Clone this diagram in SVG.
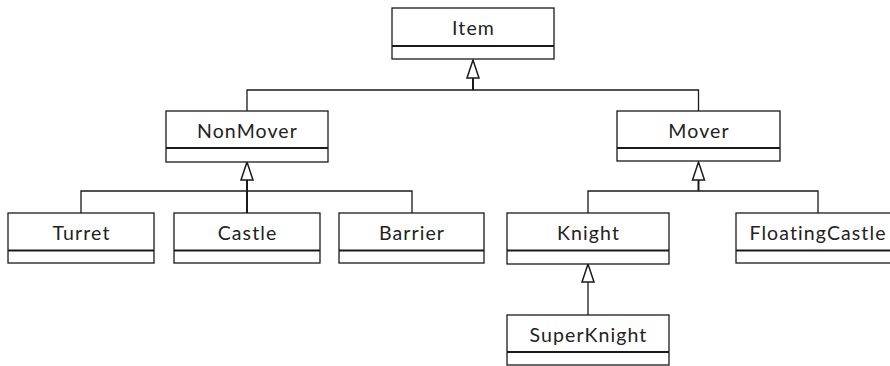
<svg xmlns="http://www.w3.org/2000/svg" width="890" height="366" viewBox="0 0 890 366">
<style>
.box{fill:#fff;stroke:#1a1a1a;stroke-width:1.3}
.div{stroke:#1a1a1a;stroke-width:1.8}
.t{font-family:Lato,"Open Sans",sans-serif;font-size:19.5px;letter-spacing:1.1px;fill:#222;text-anchor:middle}
.c{fill:none;stroke:#1a1a1a;stroke-width:1.3}
.a{fill:#fff;stroke:#1a1a1a;stroke-width:1.5}
</style>
<g id="connectors">
<polyline class="c" points="247,111 247,90 698.5,90 698.5,111"/>
<line class="c" x1="473" y1="78" x2="473" y2="90" style="stroke-width:2"/>
<polygon class="a" points="473,60 467,78 479,78"/>
<polyline class="c" points="81,213 81,191 412,191 412,213"/>
<line class="c" x1="247" y1="180" x2="247" y2="213" style="stroke-width:2"/>
<polygon class="a" points="247,162 241,180 253,180"/>
<polyline class="c" points="588,213 588,191 818,191 818,213"/>
<line class="c" x1="698.5" y1="180" x2="698.5" y2="191" style="stroke-width:2"/>
<polygon class="a" points="698.5,162 692.5,180 704.5,180"/>
<line class="c" x1="588" y1="282" x2="588" y2="315"/>
<polygon class="a" points="588,264 582,282 594,282"/>
</g>
<g id="Item"><rect class="box" x="392" y="8" width="162" height="51"/><line class="div" x1="392" y1="46" x2="554" y2="46"/><text class="t" x="473.5" y="35">Item</text></g>
<g id="NonMover"><rect class="box" x="166" y="111" width="162" height="51"/><line class="div" x1="166" y1="148" x2="328" y2="148"/><text class="t" x="247.5" y="138">NonMover</text></g>
<g id="Mover"><rect class="box" x="617" y="111" width="163" height="50"/><line class="div" x1="617" y1="148" x2="780" y2="148"/><text class="t" x="699" y="138">Mover</text></g>
<g id="Turret"><rect class="box" x="8" y="213" width="146" height="50"/><line class="div" x1="8" y1="250.5" x2="154" y2="250.5"/><text class="t" x="81.5" y="240">Turret</text></g>
<g id="Castle"><rect class="box" x="174" y="213" width="146" height="50"/><line class="div" x1="174" y1="250.5" x2="320" y2="250.5"/><text class="t" x="247.5" y="240">Castle</text></g>
<g id="Barrier"><rect class="box" x="339" y="213" width="145" height="50"/><line class="div" x1="339" y1="250.5" x2="484" y2="250.5"/><text class="t" x="412" y="240">Barrier</text></g>
<g id="Knight"><rect class="box" x="507" y="213" width="162" height="51"/><line class="div" x1="507" y1="250.5" x2="669" y2="250.5"/><text class="t" x="588.5" y="240">Knight</text></g>
<g id="FloatingCastle"><rect class="box" x="736" y="213" width="164" height="50"/><line class="div" x1="736" y1="250.5" x2="900" y2="250.5"/><text class="t" x="818" y="240">FloatingCastle</text></g>
<g id="SuperKnight"><rect class="box" x="507" y="315" width="162" height="50"/><line class="div" x1="507" y1="352" x2="669" y2="352"/><text class="t" x="588.5" y="342">SuperKnight</text></g>
</svg>
